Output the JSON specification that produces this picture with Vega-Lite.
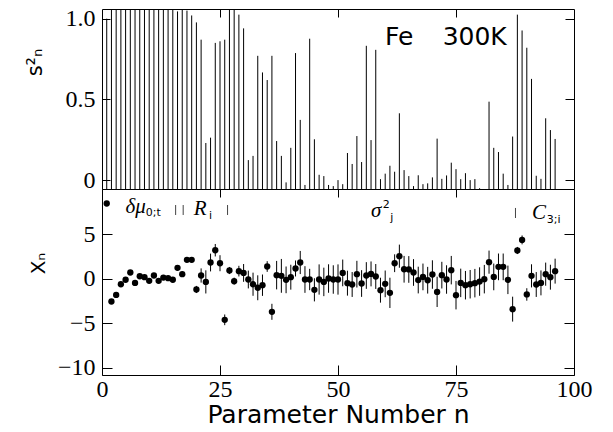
{
  "$schema": "https://vega.github.io/schema/vega-lite/v6.json",
  "padding": {"left": 23, "top": 6, "right": 5, "bottom": 0},
  "bounds": "flush",
  "spacing": 0,
  "config": {
    "view": {"stroke": "black", "strokeWidth": 1},
    "axis": {"grid": false, "domain": false, "tickColor": "black", "labelColor": "black", "titleColor": "black", "labelFont": "Liberation Serif", "labelFontSize": 24, "titleFont": "DejaVu Sans", "titleFontWeight": "normal", "labelFlush": false, "labelOverlap": false}
  },
  "datasets": {
    "pts": [
      {"n":1,"s2":1.0,"x":8.47,"e":0.15},{"n":2,"s2":1.2,"x":-2.54,"e":0.2},{"n":3,"s2":1.2,"x":-1.8,"e":0.2},{"n":4,"s2":1.2,"x":-0.6,"e":0.2},{"n":5,"s2":1.2,"x":-0.1,"e":0.2},
      {"n":6,"s2":1.2,"x":0.72,"e":0.2},{"n":7,"s2":1.2,"x":-0.45,"e":0.2},{"n":8,"s2":1.2,"x":0.3,"e":0.2},{"n":9,"s2":1.2,"x":0.19,"e":0.2},{"n":10,"s2":1.2,"x":-0.22,"e":0.2},
      {"n":11,"s2":1.2,"x":0.38,"e":0.2},{"n":12,"s2":1.2,"x":-0.22,"e":0.2},{"n":13,"s2":1.2,"x":0.15,"e":0.2},{"n":14,"s2":1.2,"x":0.08,"e":0.2},{"n":15,"s2":1.2,"x":-0.1,"e":0.2},
      {"n":16,"s2":1.045,"x":1.24,"e":0.3},{"n":17,"s2":1.2,"x":0.53,"e":0.3},{"n":18,"s2":1.05,"x":2.14,"e":0.2},{"n":19,"s2":1.02,"x":2.14,"e":0.2},{"n":20,"s2":0.977,"x":-1.19,"e":0.4},
      {"n":21,"s2":0.87,"x":0.38,"e":0.8},{"n":22,"s2":0.23,"x":-0.34,"e":1.3},{"n":23,"s2":0.263,"x":1.84,"e":1.0},{"n":24,"s2":0.85,"x":3.22,"e":0.7},{"n":25,"s2":0.86,"x":1.76,"e":0.9},
      {"n":26,"s2":0.87,"x":-4.6,"e":0.6},{"n":27,"s2":1.2,"x":0.94,"e":0.4},{"n":28,"s2":1.2,"x":-0.26,"e":0.4},{"n":29,"s2":1.025,"x":0.87,"e":0.6},{"n":30,"s2":0.94,"x":0.67,"e":1.0},
      {"n":31,"s2":0.124,"x":-0.07,"e":1.0},{"n":32,"s2":0.15,"x":-0.6,"e":1.3},{"n":33,"s2":0.77,"x":-1.0,"e":1.4},{"n":34,"s2":0.667,"x":-0.71,"e":1.2},{"n":35,"s2":0.62,"x":1.39,"e":0.6},
      {"n":36,"s2":0.77,"x":-3.7,"e":0.9},{"n":37,"s2":0.242,"x":0.42,"e":1.6},{"n":38,"s2":0.15,"x":0.34,"e":1.9},{"n":39,"s2":-0.014,"x":-0.11,"e":1.5},{"n":40,"s2":0.2,"x":0.19,"e":1.4},
      {"n":41,"s2":0.787,"x":1.17,"e":0.9},{"n":42,"s2":0.373,"x":1.84,"e":1.3},{"n":43,"s2":-0.03,"x":-0.07,"e":1.5},{"n":44,"s2":0.876,"x":-0.07,"e":1.2},{"n":45,"s2":0.253,"x":-1.23,"e":1.3},
      {"n":46,"s2":0.033,"x":-0.07,"e":1.7},{"n":47,"s2":0.025,"x":-0.34,"e":1.6},{"n":48,"s2":-0.03,"x":0.04,"e":1.6},{"n":49,"s2":-0.037,"x":-0.07,"e":1.6},{"n":50,"s2":0.0,"x":-0.07,"e":1.7},
      {"n":51,"s2":-0.025,"x":0.67,"e":1.5},{"n":52,"s2":0.168,"x":-0.48,"e":1.4},{"n":53,"s2":0.1,"x":-0.63,"e":1.4},{"n":54,"s2":0.273,"x":0.53,"e":1.5},{"n":55,"s2":0.112,"x":-0.52,"e":1.5},
      {"n":56,"s2":0.832,"x":0.38,"e":1.5},{"n":57,"s2":0.248,"x":0.56,"e":1.4},{"n":58,"s2":0.807,"x":0.27,"e":1.4},{"n":59,"s2":0.006,"x":-1.27,"e":1.4},{"n":60,"s2":0.04,"x":-0.56,"e":1.5},
      {"n":61,"s2":0.089,"x":-1.57,"e":1.7},{"n":62,"s2":0.052,"x":1.76,"e":1.0},{"n":63,"s2":0.414,"x":2.55,"e":1.3},{"n":64,"s2":0.062,"x":1.08,"e":1.5},{"n":65,"s2":0.025,"x":1.06,"e":1.5},
      {"n":66,"s2":-0.037,"x":0.72,"e":1.5},{"n":67,"s2":0.03,"x":-0.13,"e":1.5},{"n":68,"s2":-0.025,"x":0.22,"e":1.5},{"n":69,"s2":-0.02,"x":-0.15,"e":1.5},{"n":70,"s2":0.017,"x":0.49,"e":1.6},
      {"n":71,"s2":0.257,"x":-1.46,"e":1.7},{"n":72,"s2":0.008,"x":0.42,"e":1.5},{"n":73,"s2":0.029,"x":-0.07,"e":1.6},{"n":74,"s2":0.108,"x":0.98,"e":1.6},{"n":75,"s2":0.068,"x":-1.83,"e":1.6},
      {"n":76,"s2":0.006,"x":-0.45,"e":1.6},{"n":77,"s2":0.043,"x":-0.71,"e":1.6},{"n":78,"s2":0.0,"x":-0.6,"e":1.6},{"n":79,"s2":0.006,"x":-0.48,"e":1.6},{"n":80,"s2":-0.05,"x":-0.3,"e":1.6},
      {"n":81,"s2":-0.055,"x":-0.03,"e":1.6},{"n":82,"s2":0.486,"x":1.88,"e":1.3},{"n":83,"s2":0.2,"x":0.22,"e":1.5},{"n":84,"s2":0.174,"x":1.35,"e":1.5},{"n":85,"s2":0.04,"x":1.35,"e":1.5},
      {"n":86,"s2":-0.03,"x":-0.11,"e":1.6},{"n":87,"s2":0.27,"x":-3.4,"e":1.4},{"n":88,"s2":1.025,"x":3.19,"e":0.4},{"n":89,"s2":0.927,"x":4.38,"e":0.5},{"n":90,"s2":0.82,"x":-1.75,"e":0.7},
      {"n":91,"s2":0.627,"x":0.34,"e":1.3},{"n":92,"s2":0.027,"x":-0.63,"e":1.4},{"n":93,"s2":0.008,"x":-0.45,"e":1.4},{"n":94,"s2":0.383,"x":0.53,"e":1.3},{"n":95,"s2":0.31,"x":0.19,"e":1.4},
      {"n":96,"s2":0.255,"x":0.87,"e":1.4}
    ]
  },
  "vconcat": [
    {
      "width": 472,
      "height": 180,
      "resolve": {"axis": {"x": "independent", "y": "independent"}},
      "layer": [
        {
          "data": {"name": "pts"},
          "mark": {"type": "rule", "clip": true, "color": "black", "strokeWidth": 1},
          "encoding": {
            "x": {"field": "n", "type": "quantitative", "scale": {"domain": [0, 100], "nice": false, "zero": false},
                  "axis": {"orient": "top", "values": [25, 50, 75], "labels": false, "tickSize": -8, "title": null}},
            "y": {"field": "s2", "type": "quantitative", "scale": {"domain": [-0.055, 1.06], "nice": false, "zero": false},
                  "axis": {"orient": "left", "values": [0, 0.5, 1], "tickSize": -8, "labelPadding": 15,
                           "labelExpr": "datum.value == 0 ? '0' : format(datum.value, '.1f')",
                           "title": "s²ₙ", "titleFontSize": 21, "titleX": -61, "titleY": 53, "titleBaseline": "alphabetic"}},
            "y2": {"datum": -0.055}
          }
        },
        {
          "data": {"values": [{"n": 62.97, "s2": 0.837, "t": "Fe"}, {"n": 78.96, "s2": 0.837, "t": "300K"}]},
          "mark": {"type": "text", "font": "DejaVu Sans", "fontSize": 25, "align": "center", "baseline": "alphabetic", "color": "black"},
          "encoding": {
            "x": {"field": "n", "type": "quantitative", "scale": {"domain": [0, 100], "nice": false, "zero": false}, "axis": null},
            "y": {"field": "s2", "type": "quantitative", "scale": {"domain": [-0.055, 1.06], "nice": false, "zero": false},
                  "axis": {"orient": "right", "values": [0, 0.5, 1], "tickSize": -9, "labels": false, "title": null}},
            "text": {"field": "t"}
          }
        }
      ]
    },
    {
      "width": 472,
      "height": 186,
      "resolve": {"axis": {"x": "independent", "y": "independent"}},
      "layer": [
        {
          "mark": {"type": "rule", "strokeDash": [1.5, 3], "color": "#333", "strokeWidth": 1},
          "encoding": {
            "y": {"datum": 0, "type": "quantitative", "scale": {"domain": [-10.8, 10.1], "nice": false, "zero": false}, "axis": null}
          }
        },
        {
          "data": {"name": "pts"},
          "mark": {"type": "errorbar", "color": "black", "thickness": 1},
          "encoding": {
            "x": {"field": "n", "type": "quantitative", "scale": {"domain": [0, 100], "nice": false, "zero": false}, "axis": null},
            "y": {"field": "x", "type": "quantitative", "scale": {"domain": [-10.8, 10.1], "nice": false, "zero": false}, "axis": null},
            "yError": {"field": "e"}
          }
        },
        {
          "data": {"name": "pts"},
          "mark": {"type": "circle", "color": "black", "opacity": 1, "size": 40},
          "encoding": {
            "x": {"field": "n", "type": "quantitative", "scale": {"domain": [0, 100], "nice": false, "zero": false},
                  "axis": {"orient": "bottom", "values": [0, 25, 50, 75, 100], "tickSize": -10, "labelPadding": 12,
                           "title": "Parameter Number n", "titleFontSize": 25, "titlePadding": 1}},
            "y": {"field": "x", "type": "quantitative", "scale": {"domain": [-10.8, 10.1], "nice": false, "zero": false},
                  "axis": {"orient": "left", "values": [-10, -5, 0, 5], "tickSize": -10, "labelPadding": 17,
                           "title": "Xₙ", "titleFontSize": 20, "titleX": -58, "titleY": 74, "titleBaseline": "alphabetic"}}
          }
        },
        {
          "data": {"values": [
            {"n": 7.14, "v": 7.4, "t": "δμ"},
            {"n": 20.8, "v": 7.18, "t": "R"},
            {"n": 58.1, "v": 6.95, "t": "σ"},
            {"n": 92.6, "v": 6.73, "t": "C"}
          ]},
          "mark": {"type": "text", "font": "Liberation Serif", "fontStyle": "italic", "fontSize": 21, "align": "center", "baseline": "alphabetic", "color": "black"},
          "encoding": {
            "x": {"field": "n", "type": "quantitative", "scale": {"domain": [0, 100], "nice": false, "zero": false},
                  "axis": {"orient": "top", "values": [25, 50, 75], "labels": false, "tickSize": -8, "title": null}},
            "y": {"field": "v", "type": "quantitative", "scale": {"domain": [-10.8, 10.1], "nice": false, "zero": false},
                  "axis": {"orient": "right", "values": [-10, -5, 0, 5], "tickSize": -10, "labels": false, "title": null}},
            "text": {"field": "t"}
          }
        },
        {
          "data": {"values": [
            {"n": 10.85, "v": 7.07, "t": "0;t"},
            {"n": 23.0, "v": 6.73, "t": "i"},
            {"n": 60.2, "v": 7.97, "t": "2"},
            {"n": 61.4, "v": 6.5, "t": "j"},
            {"n": 95.7, "v": 6.28, "t": "3;i"}
          ]},
          "mark": {"type": "text", "font": "DejaVu Sans", "fontSize": 11, "align": "center", "baseline": "alphabetic", "color": "black"},
          "encoding": {
            "x": {"field": "n", "type": "quantitative", "scale": {"domain": [0, 100], "nice": false, "zero": false}, "axis": null},
            "y": {"field": "v", "type": "quantitative", "scale": {"domain": [-10.8, 10.1], "nice": false, "zero": false}, "axis": null},
            "text": {"field": "t"}
          }
        },
        {
          "data": {"values": [
            {"n": 15.6, "lo": 7.18, "hi": 8.3},
            {"n": 17.2, "lo": 7.18, "hi": 8.3},
            {"n": 26.6, "lo": 7.18, "hi": 8.3},
            {"n": 87.6, "lo": 6.84, "hi": 7.97}
          ]},
          "mark": {"type": "rule", "color": "#444", "strokeWidth": 1},
          "encoding": {
            "x": {"field": "n", "type": "quantitative", "scale": {"domain": [0, 100], "nice": false, "zero": false}, "axis": null},
            "y": {"field": "lo", "type": "quantitative", "scale": {"domain": [-10.8, 10.1], "nice": false, "zero": false}, "axis": null},
            "y2": {"field": "hi"}
          }
        }
      ]
    }
  ]
}
